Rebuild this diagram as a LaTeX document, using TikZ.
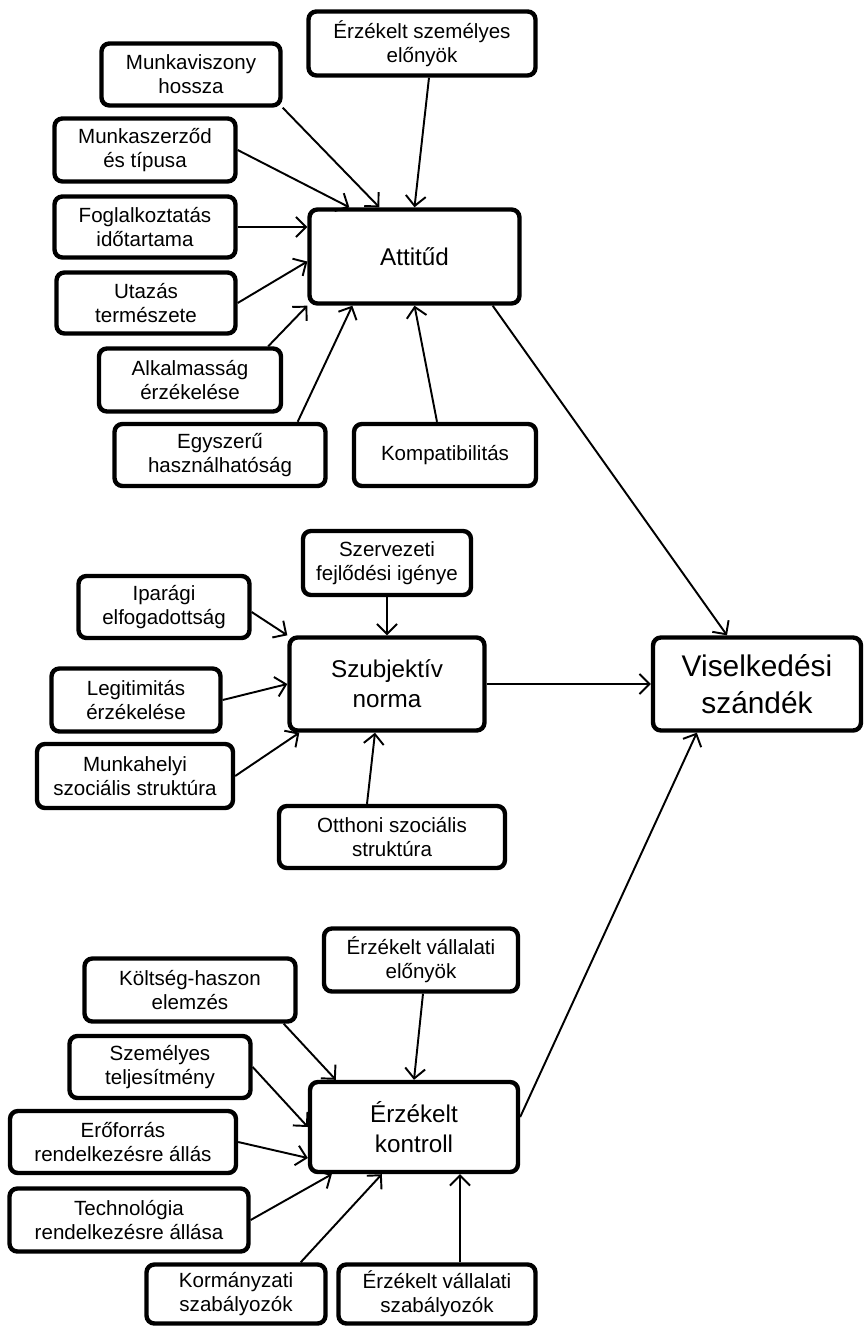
\documentclass[tikz,border=0pt]{standalone}
\usepackage{fontspec}
\setmainfont{Liberation Sans}
\usepackage{tikz}
\usetikzlibrary{arrows.meta, calc}

\tikzset{
  factor/.style={draw, line width=2.5pt, rounded corners=4.5pt, align=center,
    inner sep=0pt, font=\fontsize{11.7}{13.6}\selectfont},
  construct/.style={factor, font=\fontsize{13.8}{17}\selectfont},
  link/.style={line width=1.1pt, -{Straight Barb[length=2mm, width=4mm]}},
}

\begin{document}
\begin{tikzpicture}[x=0.02cm, y=-0.02cm]
  \useasboundingbox (0,0) rectangle (864,1327);

  % Attitud
  \node[construct, minimum width=4.2cm, minimum height=1.88cm] (att) at (414.5,256.5) {Attitűd};
  \node[factor, minimum width=4.54cm, minimum height=1.28cm] (elony) at (422,43.5) {Érzékelt személyes\\előnyök};
  \node[factor, minimum width=3.58cm, minimum height=1.24cm] (mhossz) at (191,74.5) {Munkaviszony\\hossza};
  \node[factor, minimum width=3.62cm, minimum height=1.26cm] (mszerz) at (145,150) {Munkaszerződ\\és típusa};
  \node[factor, minimum width=3.62cm, minimum height=1.22cm] (fogl) at (145,227) {Foglalkoztatás\\időtartama};
  \node[factor, minimum width=3.58cm, minimum height=1.22cm] (utaz) at (146,303) {Utazás\\természete};
  \node[factor, minimum width=3.64cm, minimum height=1.26cm] (alk) at (190,380) {Alkalmasság\\érzékelése};
  \node[factor, minimum width=4.22cm, minimum height=1.24cm] (egysz) at (220,455) {Egyszerű\\használhatóság};
  \node[factor, minimum width=3.64cm, minimum height=1.24cm] (komp) at (445,455) {Kompatibilitás};

  \draw[link] (mhossz.south east) -- ($(att.north west)+(72,0)$);
  \draw[link] (mszerz.east) -- ($(att.north west)+(42,0)$);
  \draw[link] ($(elony.south)+(7,0)$) -- (att.north);
  \draw[link] (fogl.east) -- (fogl.east -| att.west);
  \draw[link] (utaz.east) -- ($(att.west)+(0,5)$);
  \draw[link] ($(alk.north east)+(-15,0)$) -- (att.south west);
  \draw[link] ($(egysz.north east)+(-30,0)$) -- ($(att.south west)+(45,0)$);
  \draw[link] ($(komp.north)+(-8,0)$) -- (att.south);

  % Szubjektiv norma
  \node[construct, minimum width=3.9cm, minimum height=1.86cm] (szub) at (387,684) {Szubjektív\\norma};
  \node[factor, minimum width=3.36cm, minimum height=1.28cm] (szerv) at (387,563) {Szervezeti\\fejlődési igénye};
  \node[factor, minimum width=3.42cm, minimum height=1.24cm] (ipar) at (164,607) {Iparági\\elfogadottság};
  \node[factor, minimum width=3.38cm, minimum height=1.26cm] (legit) at (136,700) {Legitimitás\\érzékelése};
  \node[factor, minimum width=3.92cm, minimum height=1.28cm] (mhely) at (135,776) {Munkahelyi\\szociális struktúra};
  \node[factor, minimum width=4.52cm, minimum height=1.24cm] (otth) at (392,837) {Otthoni szociális\\struktúra};

  \draw[link] ($(ipar.east)+(0,5)$) -- (szub.north west);
  \draw[link] (szerv.south) -- (szub.north);
  \draw[link] (legit.east) -- (szub.west);
  \draw[link] (mhely.east) -- ($(szub.south west)+(12,0)$);
  \draw[link] ($(otth.north)+(-25,0)$) -- ($(szub.south)+(-12,0)$);

  % Viselkedesi szandek
  \node[factor, minimum width=4.16cm, minimum height=1.86cm, font=\fontsize{17}{21}\selectfont] (visel) at (757,684) {Viselkedési\\szándék};

  % Erzekelt kontroll
  \node[construct, minimum width=4.16cm, minimum height=1.8cm] (kontr) at (414,1127) {Érzékelt\\kontroll};
  \node[factor, minimum width=3.88cm, minimum height=1.26cm] (velony) at (421,960) {Érzékelt vállalati\\előnyök};
  \node[factor, minimum width=4.22cm, minimum height=1.26cm] (kolts) at (190,990) {Költség-haszon\\elemzés};
  \node[factor, minimum width=3.62cm, minimum height=1.24cm] (szem) at (160,1067) {Személyes\\teljesítmény};
  \node[factor, minimum width=4.52cm, minimum height=1.24cm] (erof) at (123,1142) {Erőforrás\\rendelkezésre állás};
  \node[factor, minimum width=4.78cm, minimum height=1.26cm] (techn) at (129,1220) {Technológia\\rendelkezésre állása};
  \node[factor, minimum width=3.58cm, minimum height=1.18cm] (korm) at (236,1294) {Kormányzati\\szabályozók};
  \node[factor, minimum width=3.94cm, minimum height=1.18cm] (vszab) at (437,1294) {Érzékelt vállalati\\szabályozók};

  \draw[link] ($(velony.south)+(2,0)$) -- (kontr.north);
  \draw[link] ($(kolts.south east)+(-14,0)$) -- ($(kontr.north west)+(28,0)$);
  \draw[link] (szem.east) -- (kontr.west);
  \draw[link] (erof.east) -- ($(kontr.west)+(0,31)$);
  \draw[link] (techn.east) -- ($(kontr.south west)+(24,0)$);
  \draw[link] ($(korm.north east)+(-27,0)$) -- ($(kontr.south west)+(74,0)$);
  \draw[link] ($(vszab.north)+(23,0)$) -- ($(kontr.south)+(46,0)$);

  % to the intention
  \draw[link] ($(att.south east)+(-29,0)$) -- ($(visel.north)+(-30,0)$);
  \draw[link] (szub.east) -- (visel.west);
  \draw[link] ($(kontr.east)+(0,-10)$) -- ($(visel.south west)+(46,0)$);
\end{tikzpicture}
\end{document}
